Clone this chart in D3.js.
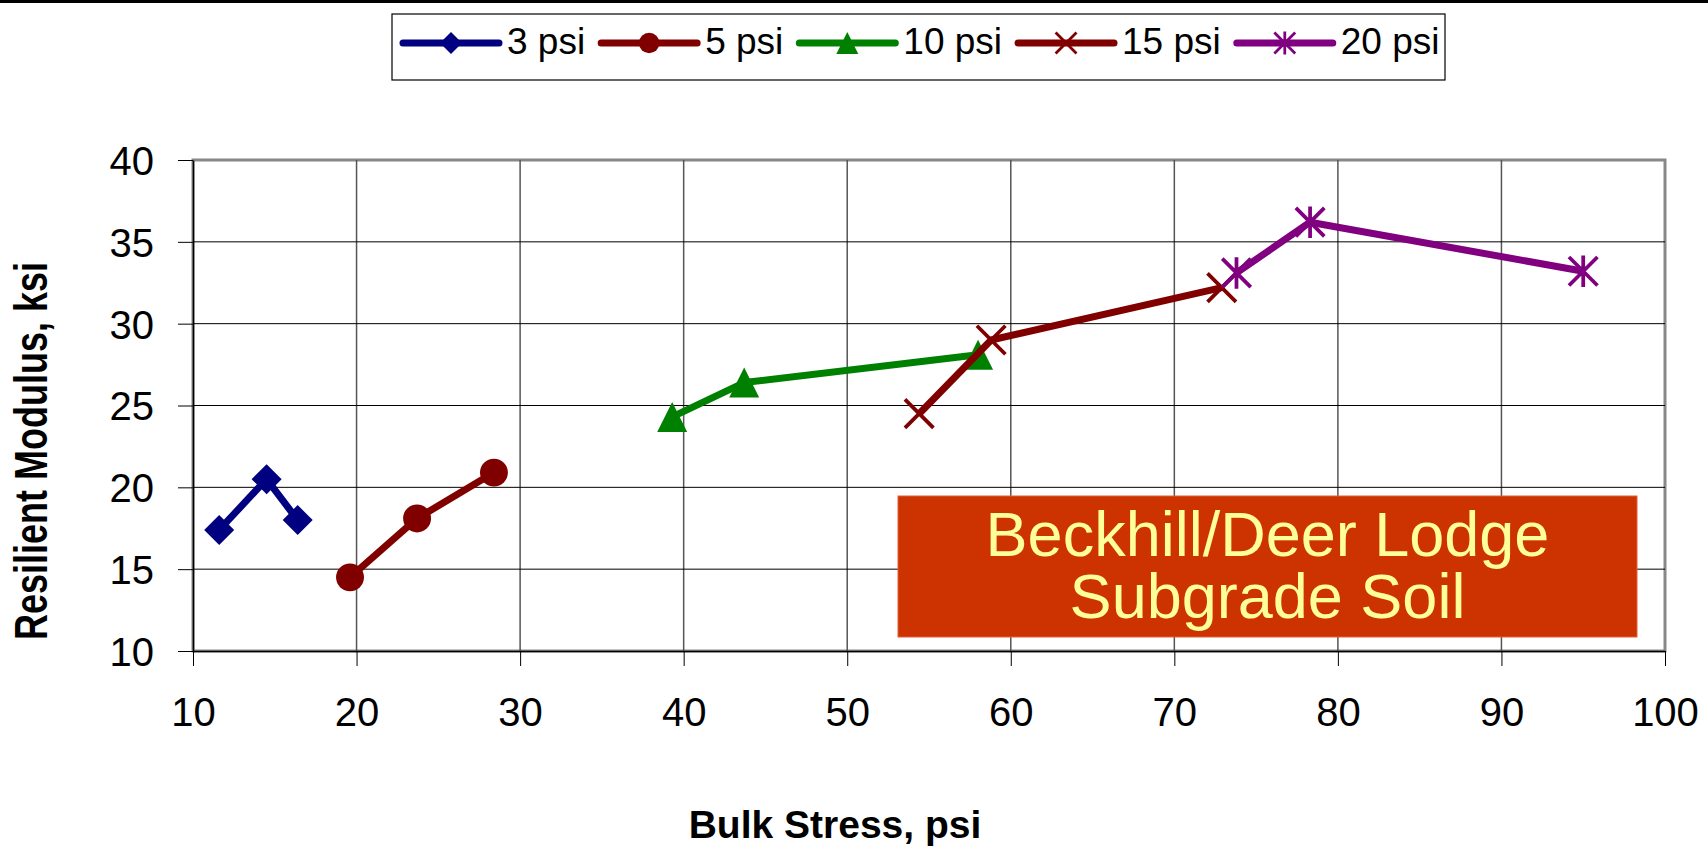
<!DOCTYPE html>
<html lang="en">
<head>
  <meta charset="UTF-8">
  <title>Beckhill/Deer Lodge Subgrade Soil</title>
  <script src="https://d3js.org/d3.v7.min.js"></script>
  <style>
    body {
      margin: 0;
      padding: 0;
      background: #ffffff;
      font-family: "Liberation Sans", Arial, sans-serif;
    }
  </style>
</head>
<body>
  <svg id="chart"></svg>

  <script>
    // Chart values
    const seriesNames = ["3 psi", "5 psi", "10 psi", "15 psi", "20 psi"];
    const seriesColors = ["#000080", "#800000", "#008000", "#800000", "#800080"];
    const seriesMarkers = ["diamond", "circle", "triangle", "x", "star"];

    const bulk3 = [11.6, 14.5, 16.4];
    const mr3 = [17.4, 20.5, 18.0];
    const bulk5 = [19.6, 23.7, 28.4];
    const mr5 = [14.5, 18.1, 20.9];
    const bulk10 = [39.3, 43.7, 58.0];
    const mr10 = [24.3, 26.4, 28.1];
    const bulk15 = [54.4, 58.8, 72.9];
    const mr15 = [24.5, 29.0, 32.2];
    const bulk20 = [73.8, 78.3, 95.0];
    const mr20 = [33.1, 36.2, 33.2];

    const xTicks = [10, 20, 30, 40, 50, 60, 70, 80, 90, 100];
    const yTicks = [10, 15, 20, 25, 30, 35, 40];
    const boxLines = ["Beckhill/Deer Lodge", "Subgrade Soil"];

    const width = 1708;
    const height = 848;
    const plot = { left: 193, right: 1665, top: 160, bottom: 651 };

    const svg = d3.select("#chart")
      .attr("width", width)
      .attr("height", height);

    // black bar along the top edge
    svg.append("rect")
      .attr("x", 0).attr("y", 0)
      .attr("width", width).attr("height", 3)
      .attr("fill", "#000");

    const x = d3.scaleLinear().domain([10, 100]).range([plot.left, plot.right]);
    const y = d3.scaleLinear().domain([10, 40]).range([plot.bottom, plot.top]);

    // plot frame
    svg.append("rect")
      .attr("x", plot.left).attr("y", plot.top)
      .attr("width", plot.right - plot.left)
      .attr("height", plot.bottom - plot.top)
      .attr("fill", "#fff")
      .attr("stroke", "#888")
      .attr("stroke-width", 3);

    // gridlines
    svg.append("g")
      .selectAll("line")
      .data(xTicks.slice(1, -1))
      .enter()
      .append("line")
      .attr("x1", d => x(d)).attr("x2", d => x(d))
      .attr("y1", plot.top).attr("y2", plot.bottom)
      .attr("stroke", "#555")
      .attr("stroke-width", 1.5);

    svg.append("g")
      .selectAll("line")
      .data(yTicks.slice(1, -1))
      .enter()
      .append("line")
      .attr("x1", plot.left).attr("x2", plot.right)
      .attr("y1", d => y(d)).attr("y2", d => y(d))
      .attr("stroke", "#000")
      .attr("stroke-width", 1);

    // axes
    const xAxis = svg.append("g")
      .attr("transform", `translate(0,${plot.bottom})`)
      .call(d3.axisBottom(x).tickValues(xTicks).tickSize(15).tickPadding(32).tickSizeOuter(0));
    const yAxis = svg.append("g")
      .attr("transform", `translate(${plot.left},0)`)
      .call(d3.axisLeft(y).tickValues(yTicks).tickSize(15).tickPadding(24).tickSizeOuter(0));

    [xAxis, yAxis].forEach(ax => {
      ax.select(".domain").attr("stroke", "#000").attr("stroke-width", 1.5);
      ax.selectAll(".tick line").attr("stroke", "#000").attr("stroke-width", 1);
      ax.selectAll(".tick text")
        .attr("fill", "#000")
        .style("font-family", "'Liberation Sans', Arial, sans-serif")
        .style("font-size", "40px");
    });
    xAxis.selectAll(".tick text").attr("dy", "0.71em");
    yAxis.selectAll(".tick text").attr("dy", "0.36em");

    // axis titles
    svg.append("text")
      .attr("x", 835).attr("y", 838)
      .attr("text-anchor", "middle")
      .style("font-size", "39px")
      .style("font-weight", "bold")
      .text("Bulk Stress, psi");

    svg.append("text")
      .attr("transform", "translate(47,451) scale(1.3,1) rotate(-90)")
      .attr("text-anchor", "middle")
      .style("font-size", "36px")
      .style("font-weight", "bold")
      .text("Resilient Modulus, ksi");

    // marker drawing
    function drawMarker(g, type, cx, cy, r, color) {
      if (type === "diamond") {
        g.append("path")
          .attr("d", `M${cx},${cy - r}L${cx + r},${cy}L${cx},${cy + r}L${cx - r},${cy}Z`)
          .attr("fill", color);
      } else if (type === "circle") {
        g.append("circle").attr("cx", cx).attr("cy", cy).attr("r", r * 0.93).attr("fill", color);
      } else if (type === "triangle") {
        g.append("path")
          .attr("d", `M${cx},${cy - r}L${cx + r},${cy + r}L${cx - r},${cy + r}Z`)
          .attr("fill", color);
      } else {
        const s = r * 0.95;
        let d = `M${cx - s},${cy - s}L${cx + s},${cy + s}M${cx + s},${cy - s}L${cx - s},${cy + s}`;
        if (type === "star") d += `M${cx},${cy - r * 1.05}L${cx},${cy + r * 1.05}`;
        g.append("path")
          .attr("d", d)
          .attr("stroke", color)
          .attr("stroke-width", r / 4)
          .attr("fill", "none");
      }
    }

    const allX = [bulk3, bulk5, bulk10, bulk15, bulk20];
    const allY = [mr3, mr5, mr10, mr15, mr20];

    const line = d3.line().x(d => x(d[0])).y(d => y(d[1]));

    seriesNames.forEach((name, i) => {
      const pts = allX[i].map((v, j) => [v, allY[i][j]]);
      const g = svg.append("g");
      g.append("path")
        .datum(pts)
        .attr("d", line)
        .attr("fill", "none")
        .attr("stroke", seriesColors[i])
        .attr("stroke-width", 7)
        .attr("stroke-linejoin", "round");
      pts.forEach(p => drawMarker(g, seriesMarkers[i], x(p[0]), y(p[1]), 15, seriesColors[i]));
    });

    // label box
    const box = { x: 898, y: 496, w: 739, h: 141 };
    svg.append("rect")
      .attr("x", box.x).attr("y", box.y)
      .attr("width", box.w).attr("height", box.h)
      .attr("fill", "#cc3300")
      .attr("stroke", "#e0603a")
      .attr("stroke-width", 1);
    const boxText = svg.append("text")
      .attr("x", box.x + box.w / 2).attr("y", 556)
      .attr("text-anchor", "middle")
      .attr("fill", "#ffff99")
      .style("font-size", "63px");
    boxText.selectAll("tspan")
      .data(boxLines)
      .enter()
      .append("tspan")
      .attr("x", box.x + box.w / 2)
      .attr("dy", (d, i) => i === 0 ? 0 : 62)
      .text(d => d);

    // legend
    const legend = svg.append("g");
    legend.append("rect")
      .attr("x", 392).attr("y", 14)
      .attr("width", 1053).attr("height", 66)
      .attr("fill", "#fff")
      .attr("stroke", "#000")
      .attr("stroke-width", 1.2);

    let lx = 403;
    const ly = 43;
    seriesNames.forEach((name, i) => {
      const item = legend.append("g");
      item.append("line")
        .attr("x1", lx).attr("x2", lx + 96)
        .attr("y1", ly).attr("y2", ly)
        .attr("stroke", seriesColors[i])
        .attr("stroke-width", 7)
        .attr("stroke-linecap", "round");
      drawMarker(item, seriesMarkers[i], lx + 48, ly, 11, seriesColors[i]);
      const t = item.append("text")
        .attr("x", lx + 104).attr("y", ly + 11)
        .style("font-size", "37px")
        .text(name);
      lx += 104 + t.node().getComputedTextLength() + 16;
    });
  </script>
</body>
</html>
